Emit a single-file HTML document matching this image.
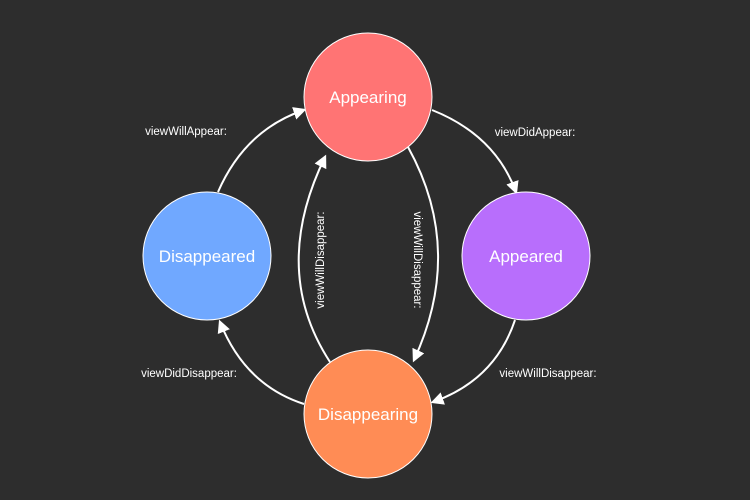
<!DOCTYPE html>
<html><head><meta charset="utf-8"><style>
html,body{margin:0;padding:0;background:#2d2d2d;}
svg{display:block;}
text{font-family:"Liberation Sans",sans-serif;fill:#fff;}
</style></head><body>
<svg width="750" height="500" viewBox="0 0 750 500">
<defs>
<marker id="a" viewBox="0 0 10 10" refX="8" refY="5" markerWidth="6.5" markerHeight="6.5" orient="auto-start-reverse">
<path d="M0,0 L10,5 L0,10 z" fill="#fff"/>
</marker>
</defs>
<rect width="750" height="500" fill="#2d2d2d"/>
<g fill="none" stroke="#fff" stroke-width="2" marker-end="url(#a)">
<path d="M218,192 Q245,130 304,110"/>
<path d="M432,110 Q495,135 516,192"/>
<path d="M515,320 Q495,380 433,402"/>
<path d="M304,404 Q245,385 220,322"/>
<path d="M330,362 Q270,270 325,157"/>
<path d="M408,147 Q465,250 414,360"/>
</g>
<g stroke="#fff" stroke-width="1">
<circle cx="368" cy="97" r="64" fill="#ff7474"/>
<circle cx="207" cy="256" r="64" fill="#70a8ff"/>
<circle cx="526" cy="256" r="64" fill="#b86efc"/>
<circle cx="368" cy="414" r="64" fill="#ff8c55"/>
</g>
<g font-size="17" text-anchor="middle">
<text x="368" y="103">Appearing</text>
<text x="207" y="262">Disappeared</text>
<text x="526" y="262">Appeared</text>
<text x="368" y="420">Disappearing</text>
</g>
<g font-size="11.5" text-anchor="middle">
<text x="186" y="135">viewWillAppear:</text>
<text x="535" y="136">viewDidAppear:</text>
<text x="189" y="377">viewDidDisappear:</text>
<text x="548" y="377">viewWillDisappear:</text>
<text transform="translate(324,260) rotate(-90)">viewWillDisappear:</text>
<text transform="translate(414,260) rotate(90)">viewWillDisappear:</text>
</g>
</svg>
</body></html>
